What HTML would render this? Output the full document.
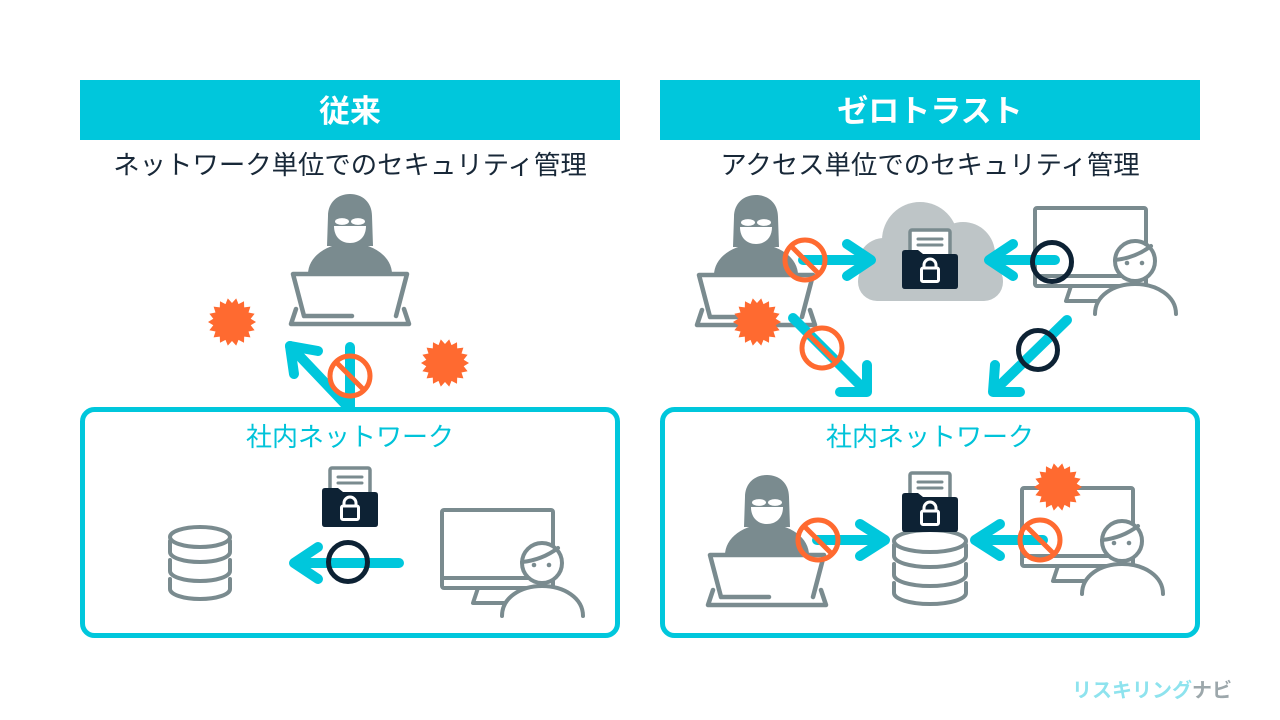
<!DOCTYPE html>
<html><head><meta charset="utf-8"><style>
html,body{margin:0;padding:0;background:#fff;}
svg{display:block;}
text{font-family:"Liberation Sans","Noto Sans CJK JP",sans-serif;}
</style></head><body>
<svg width="1280" height="720" viewBox="0 0 1280 720" xmlns="http://www.w3.org/2000/svg">
<defs>
  <g id="hacker">
    <path d="M-42,80 A42 31 0 0 1 42,80 Z" fill="#7a8b8f"/>
    <path d="M-23,52 L-22,22 C-22,8 -12,0 0,0 C12,0 22,8 22,22 L23,52 Z" fill="#7a8b8f"/>
    <path d="M-16,32 L16,32 C16,43 9,49 0,49 C-9,49 -16,43 -16,32 Z" fill="#fff"/>
    <ellipse cx="-8" cy="27.5" rx="7" ry="3.4" fill="#fff"/>
    <ellipse cx="8" cy="27.5" rx="7" ry="3.4" fill="#fff"/>
    <path d="M-57,80 L57,80 L46,122 L-46,122 Z" fill="#fff"/>
    <path d="M2,122 L-46,122 L-57,80 L57,80 L46,122" fill="none" stroke="#7a8b8f" stroke-width="4.5" stroke-linecap="round" stroke-linejoin="round"/>
    <path d="M-54,115 L-59,130 L59,130 L54,115" fill="none" stroke="#7a8b8f" stroke-width="4.5" stroke-linecap="round" stroke-linejoin="round"/>
  </g>
  <g id="folder">
    <rect x="8" y="-20" width="40" height="30" rx="2" fill="#fff" stroke="#7a8b8f" stroke-width="3.5"/>
    <path d="M16,-11 L40,-11 M16,-5 L40,-5" stroke="#7a8b8f" stroke-width="3" stroke-linecap="round"/>
    <path d="M0,3 Q0,0 3,0 L16,0 L21,4 L53,4 Q56,4 56,7 L56,36 Q56,39 53,39 L3,39 Q0,39 0,36 Z" fill="#0d2234"/>
    <path d="M22,18 L22,15 A6 6 0 0 1 34,15 L34,18" fill="none" stroke="#fff" stroke-width="3"/>
    <rect x="19.5" y="18" width="17" height="13.5" rx="1.5" fill="none" stroke="#fff" stroke-width="3"/>
  </g>
  <g id="pc">
    <rect x="0" y="0" width="111" height="78" rx="2" fill="none" stroke="#7a8b8f" stroke-width="4"/>
    <path d="M0,68 L111,68" stroke="#7a8b8f" stroke-width="4"/>
    <path d="M36,78 L31,93 L62,93" fill="none" stroke="#7a8b8f" stroke-width="4" stroke-linejoin="round" stroke-linecap="round"/>
    <path d="M60,106 C60,88 78,76 100,76 C122,76 141,88 141,106" fill="#fff" stroke="#7a8b8f" stroke-width="4" stroke-linecap="round"/>
    <circle cx="100" cy="53" r="20" fill="#fff" stroke="#7a8b8f" stroke-width="4"/>
    <path d="M80,52 Q100,50 116,38" fill="none" stroke="#7a8b8f" stroke-width="4" stroke-linecap="round"/>
    <circle cx="92" cy="55" r="2.3" fill="#7a8b8f"/>
    <circle cx="107" cy="55" r="2.3" fill="#7a8b8f"/>
  </g>
  <polygon id="star" fill="#ff6a30" points="24,0 18.7,3.3 22.6,8.2 16.5,9.5 18.4,15.4 12.2,14.6 12,20.8 6.5,17.9 4.2,23.6 0,19 -4.2,23.6 -6.5,17.9 -12,20.8 -12.2,14.6 -18.4,15.4 -16.5,9.5 -22.6,8.2 -18.7,3.3 -24,0 -18.7,-3.3 -22.6,-8.2 -16.5,-9.5 -18.4,-15.4 -12.2,-14.6 -12,-20.8 -6.5,-17.9 -4.2,-23.6 0,-19 4.2,-23.6 6.5,-17.9 12,-20.8 12.2,-14.6 18.4,-15.4 16.5,-9.5 22.6,-8.2 18.7,-3.3"/>
  <g id="ban">
    <circle cx="0" cy="0" r="20" fill="none" stroke="#ff6a30" stroke-width="5"/>
    <path d="M-14,-14 L14,14" stroke="#ff6a30" stroke-width="5"/>
  </g>
  <g id="ok">
    <circle cx="0" cy="0" r="19.5" fill="none" stroke="#0d2234" stroke-width="5"/>
  </g>
</defs>

<!-- headers -->
<rect x="80" y="80" width="540" height="60" fill="#00c7dc"/>
<rect x="660" y="80" width="540" height="60" fill="#00c7dc"/>
<text x="350" y="122" font-size="31" font-weight="bold" fill="#fff" text-anchor="middle">従来</text>
<text x="930" y="122" font-size="31" font-weight="bold" fill="#fff" text-anchor="middle">ゼロトラスト</text>
<text x="350" y="174" font-size="26.4" fill="#182838" text-anchor="middle">ネットワーク単位でのセキュリティ管理</text>
<text x="930" y="174" font-size="26.4" fill="#182838" text-anchor="middle">アクセス単位でのセキュリティ管理</text>

<!-- boxes -->
<rect x="82.5" y="409.5" width="535" height="226" rx="12" fill="none" stroke="#00c7dc" stroke-width="5"/>
<rect x="662.5" y="409.5" width="535" height="226" rx="12" fill="none" stroke="#00c7dc" stroke-width="5"/>
<text x="350" y="446" font-size="26" fill="#00c3d9" text-anchor="middle">社内ネットワーク</text>
<text x="930" y="446" font-size="26" fill="#00c3d9" text-anchor="middle">社内ネットワーク</text>

<!-- LEFT SECTION -->
<use href="#hacker" x="350" y="194"/>
<use href="#star" x="232" y="322"/>
<use href="#star" x="445" y="363"/>
<g stroke="#00c7dc" stroke-width="10" stroke-linecap="round" stroke-linejoin="round" fill="none">
  <path d="M350,407 L350,347"/>
  <path d="M348,407 L290,346"/>
  <path d="M318,351 L290,346 L294,374"/>
  <path d="M399,563 L295,563"/>
  <path d="M318,547 L294,563 L318,579"/>
</g>
<use href="#ban" x="350" y="376"/>

<!-- database left -->
<g fill="none" stroke="#7a8b8f" stroke-width="4" stroke-linecap="round">
  <ellipse cx="200" cy="537" rx="30" ry="10"/>
  <path d="M170,541 L170,552 A30 10 0 0 0 230,552 L230,541"/>
  <path d="M170,560 L170,571 A30 10 0 0 0 230,571 L230,560"/>
  <path d="M170,579 L170,589 A30 10 0 0 0 230,589 L230,579"/>
</g>
<use href="#folder" x="322" y="488"/>
<use href="#ok" x="348" y="562"/>
<use href="#pc" x="442" y="510"/>

<!-- RIGHT SECTION -->
<g fill="#bec5c7">
  <circle cx="920" cy="240" r="38"/>
  <circle cx="963" cy="254" r="32"/>
  <circle cx="884" cy="264" r="26"/>
  <rect x="858" y="262" width="145" height="39" rx="19"/>
  <rect x="880" y="250" width="90" height="51"/>
</g>
<use href="#folder" x="902" y="250"/>
<use href="#hacker" x="756" y="195"/>
<use href="#pc" x="1035" y="208"/>
<use href="#star" x="757" y="322"/>
<g stroke="#00c7dc" stroke-width="10" stroke-linecap="round" stroke-linejoin="round" fill="none">
  <path d="M803,260 L869,260"/>
  <path d="M847,244 L871,260 L847,276"/>
  <path d="M1055,260 L991,260"/>
  <path d="M1013,244 L989,260 L1013,276"/>
  <path d="M793,318 L866,391"/>
  <path d="M840,392 L867,392 L867,365"/>
  <path d="M1067,320 L994,391"/>
  <path d="M1020,392 L993,392 L995,365"/>
</g>
<use href="#ban" x="805" y="260"/>
<use href="#ok" x="1052" y="262"/>
<use href="#ban" x="822" y="348"/>
<use href="#ok" x="1038" y="350"/>

<!-- right box contents -->
<use href="#hacker" x="767" y="475"/>
<g fill="none" stroke="#7a8b8f" stroke-width="4" stroke-linecap="round">
  <ellipse cx="930" cy="541" rx="36" ry="11"/>
  <path d="M894,545 L894,556 A36 11 0 0 0 966,556 L966,545"/>
  <path d="M894,564 L894,575 A36 11 0 0 0 966,575 L966,564"/>
  <path d="M894,583 L894,593 A36 11 0 0 0 966,593 L966,583"/>
</g>
<use href="#folder" x="902" y="493"/>
<use href="#pc" x="1022" y="488"/>
<use href="#star" x="1058" y="487"/>
<g stroke="#00c7dc" stroke-width="10" stroke-linecap="round" stroke-linejoin="round" fill="none">
  <path d="M817,540 L883,540"/>
  <path d="M860,524 L885,540 L860,556"/>
  <path d="M1043,540 L977,540"/>
  <path d="M1000,524 L975,540 L1000,556"/>
</g>
<use href="#ban" x="818" y="540"/>
<use href="#ban" x="1040" y="540"/>

<!-- logo -->
<text x="1072" y="697" font-size="20" font-weight="bold"><tspan fill="#8ee3ee">リスキリング</tspan><tspan fill="#9ca7ab">ナビ</tspan></text>
</svg>
</body></html>
